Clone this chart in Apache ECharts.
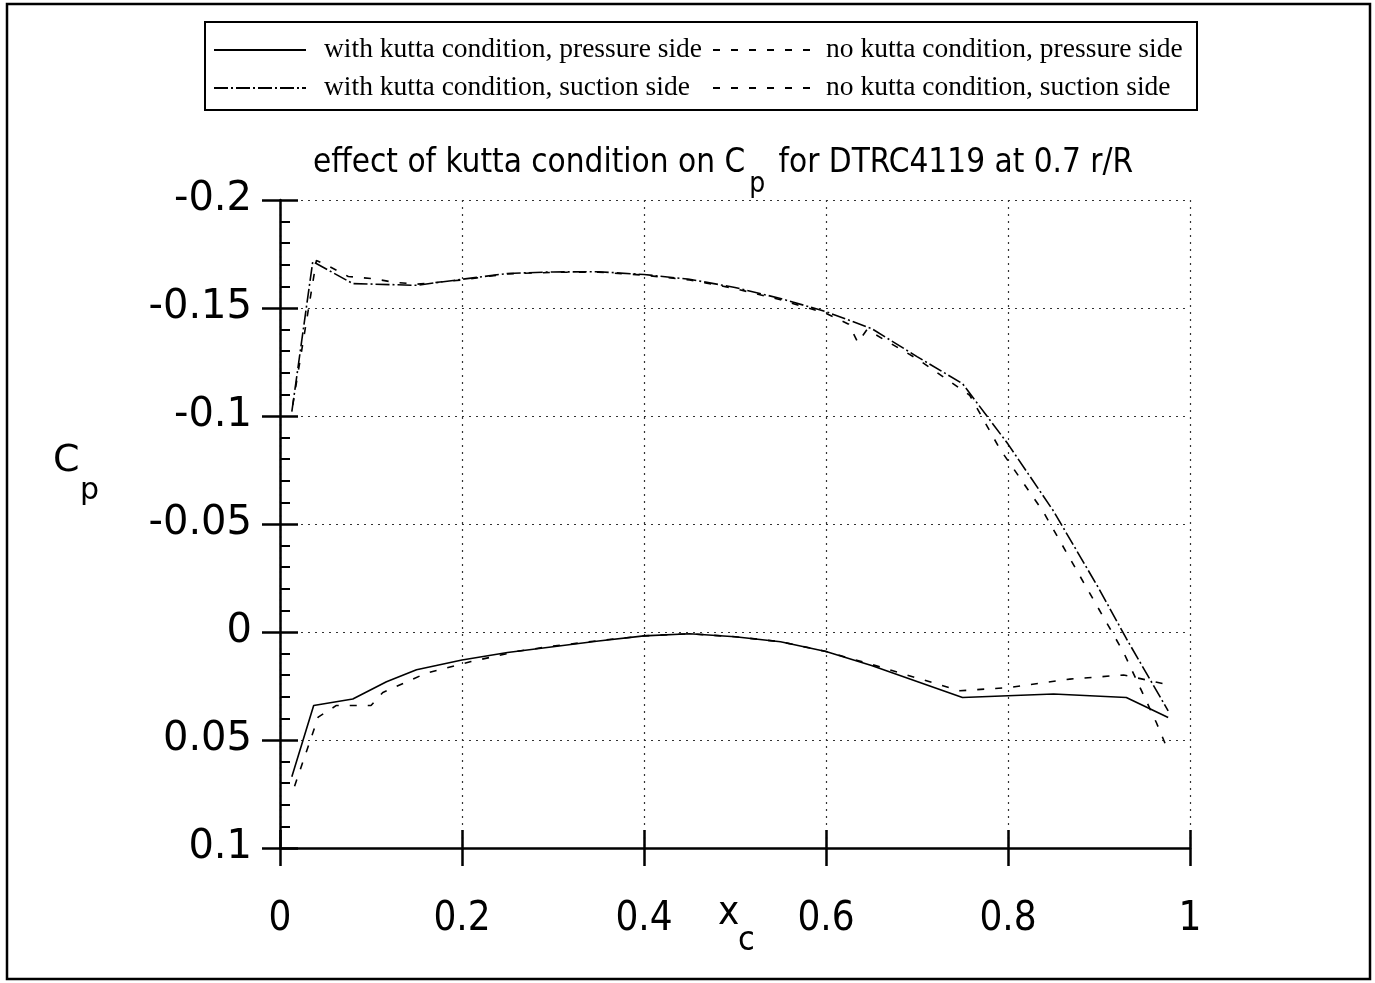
<!DOCTYPE html>
<html>
<head>
<meta charset="utf-8">
<script src="https://cdn.jsdelivr.net/npm/echarts@6/dist/echarts.min.js"></script>
<style>
html,body{margin:0;padding:0;background:#fff;}
#c{width:1375px;height:983px;}
</style>
</head>
<body>
<div id="c"></div>
<script>
// ---- data ----
const seriesNames = [
  'with kutta condition, pressure side',
  'no kutta condition, pressure side',
  'with kutta condition, suction side',
  'no kutta condition, suction side'
];
const xTickLabels = ['0', '0.2', '0.4', '0.6', '0.8', '1'];
const yTickLabels = ['-0.2', '-0.15', '-0.1', '-0.05', '0', '0.05', '0.1'];

// with kutta condition, pressure side
const xKP  = [0.013, 0.037, 0.08, 0.117, 0.15, 0.2, 0.25, 0.3, 0.35, 0.4, 0.45, 0.5, 0.55, 0.6, 0.65, 0.75, 0.8, 0.85, 0.93, 0.976];
const cpKP = [0.067, 0.034, 0.031, 0.023, 0.0175, 0.013, 0.0095, 0.0068, 0.0042, 0.0018, 0.0008, 0.0022, 0.0045, 0.009, 0.0155, 0.0303, 0.0295, 0.0287, 0.0303, 0.0396];

// no kutta condition, pressure side
const xNP  = [0.016, 0.042, 0.062, 0.1, 0.113, 0.161, 0.21, 0.26, 0.3, 0.35, 0.4, 0.45, 0.5, 0.55, 0.6, 0.65, 0.747, 0.802, 0.868, 0.927, 0.976];
const cpNP = [0.0714, 0.0394, 0.034, 0.034, 0.028, 0.019, 0.0137, 0.009, 0.0065, 0.004, 0.0018, 0.0008, 0.0022, 0.0045, 0.009, 0.015, 0.0272, 0.0257, 0.0218, 0.0199, 0.0244];

// with kutta condition, suction side
const xKS  = [0.013, 0.036, 0.08, 0.15, 0.2, 0.25, 0.3, 0.35, 0.4, 0.45, 0.5, 0.55, 0.6, 0.65, 0.7, 0.75, 0.8, 0.85, 0.9, 0.93, 0.976];
const cpKS = [-0.102, -0.1715, -0.1613, -0.1605, -0.1633, -0.166, -0.1667, -0.1668, -0.1655, -0.1633, -0.1595, -0.1544, -0.1483, -0.1405, -0.1275, -0.115, -0.087, -0.056, -0.020, 0.003, 0.0365];

// no kutta condition, suction side
const xNS  = [0.014, 0.04, 0.052, 0.075, 0.102, 0.124, 0.15, 0.2, 0.25, 0.3, 0.35, 0.4, 0.45, 0.5, 0.55, 0.6, 0.625, 0.635, 0.645, 0.7, 0.758, 0.791, 0.839, 0.885, 0.927, 0.963, 0.975];
const cpNS = [-0.105, -0.172, -0.1697, -0.1646, -0.1636, -0.162, -0.161, -0.163, -0.1658, -0.1665, -0.1666, -0.1652, -0.163, -0.159, -0.1538, -0.1475, -0.1425, -0.134, -0.140, -0.1265, -0.1096, -0.0848, -0.0555, -0.0215, 0.0094, 0.0419, 0.054];

// ---- build ----
function zip(xs, ys) { return xs.map((x, i) => [x, ys[i]]); }

const NARROW = '"Liberation Sans Narrow", "Arial Narrow", "DejaVu Sans Condensed", sans-serif';
const ROUND = '"DejaVu Sans", sans-serif';
const SERIF = '"Liberation Serif", "DejaVu Serif", serif';

const dotted = { type: [2, 5], color: '#333', width: 1.2 };

function line(name, xs, ys, type) {
  return {
    name: name, type: 'line', data: zip(xs, ys),
    symbol: 'none', showSymbol: false, clip: false,
    lineStyle: { color: '#000', width: 1.6, type: type },
    itemStyle: { color: '#000' }
  };
}

const legendBase = {
  orient: 'vertical', top: 31,
  itemHeight: 14, itemGap: 10,
  itemStyle: { color: 'rgba(0,0,0,0)', borderWidth: 0, opacity: 0 },
  inactiveColor: '#000'
};

const chart = echarts.init(document.getElementById('c'), null, { renderer: 'canvas' });
const option = {
  animation: false,
  backgroundColor: '#fff',
  title: {
    text: '{t|effect of kutta condition on C}{s|p}{t| for DTRC4119 at 0.7 r/R}',
    left: 308, top: 122,
    textStyle: {
      fontWeight: 'normal',
      rich: {
        t: { fontFamily: NARROW, fontSize: 33, fontWeight: 'normal', color: '#000', lineHeight: 72 },
        s: { fontFamily: NARROW, fontSize: 28, fontWeight: 'normal', color: '#000', lineHeight: 28, padding: [44, 4, 0, 4] }
      }
    }
  },
  legend: [
    Object.assign({}, legendBase, {
      data: [seriesNames[0], seriesNames[2]],
      left: 208, itemWidth: 92,
      textStyle: { fontFamily: SERIF, fontSize: 27.5, color: '#000', lineHeight: 27, padding: [0, 0, 0, 13] }
    }),
    Object.assign({}, legendBase, {
      data: [seriesNames[1], seriesNames[3]],
      left: 707, itemWidth: 100,
      textStyle: { fontFamily: SERIF, fontSize: 27.5, color: '#000', lineHeight: 27, padding: [0, 0, 0, 8] }
    })
  ],
  grid: { left: 280, right: 185, top: 200, bottom: 135 },
  xAxis: [
    {
      type: 'value', min: 0, max: 1, interval: 0.2, position: 'bottom',
      axisLine: { onZero: false, lineStyle: { color: '#000', width: 2.5 } },
      axisTick: { inside: true, length: 18, lineStyle: { color: '#000', width: 2.5 } },
      axisLabel: { margin: 52, fontFamily: NARROW, fontSize: 40, color: '#000',
        formatter: (v) => xTickLabels[Math.round(v / 0.2)] },
      splitLine: { show: true, lineStyle: dotted }
    },
    {
      type: 'value', min: 0, max: 1, interval: 0.2, position: 'bottom',
      axisLine: { show: false, onZero: false },
      axisTick: { inside: false, length: 18, lineStyle: { color: '#000', width: 2.5 } },
      axisLabel: { show: false }, splitLine: { show: false }
    }
  ],
  yAxis: [
    {
      type: 'value', inverse: true, min: -0.2, max: 0.1, interval: 0.05, position: 'left',
      axisLine: { onZero: false, lineStyle: { color: '#000', width: 2.5 } },
      axisTick: { inside: true, length: 18, lineStyle: { color: '#000', width: 2.5 } },
      minorTick: { show: true, splitNumber: 5, length: 10, lineStyle: { color: '#000', width: 2 } },
      axisLabel: { margin: 28, fontFamily: ROUND, fontSize: 40, color: '#000',
        formatter: (v) => yTickLabels[Math.round((v + 0.2) / 0.05)] },
      splitLine: { show: true, lineStyle: dotted }
    },
    {
      type: 'value', inverse: true, min: -0.2, max: 0.1, interval: 0.05, position: 'left',
      axisLine: { show: false, onZero: false },
      axisTick: { inside: false, length: 18, lineStyle: { color: '#000', width: 2.5 } },
      axisLabel: { show: false }, splitLine: { show: false }
    }
  ],
  series: [
    line(seriesNames[0], xKP, cpKP, 'solid'),
    line(seriesNames[1], xNP, cpNP, [7, 11]),
    line(seriesNames[2], xKS, cpKS, [14, 3, 2, 3]),
    line(seriesNames[3], xNS, cpNS, [7, 11])
  ],
  graphic: [
    { type: 'rect', shape: { x: 7, y: 4, width: 1363, height: 975 },
      style: { fill: null, stroke: '#000', lineWidth: 2.5 }, silent: true },
    { type: 'rect', shape: { x: 205, y: 22, width: 992, height: 88 },
      style: { fill: null, stroke: '#000', lineWidth: 2 }, silent: true },
    { type: 'text', left: 53, top: 442,
      style: { text: 'C', font: '38px ' + ROUND, fill: '#000' } },
    { type: 'text', left: 80, top: 476,
      style: { text: 'p', font: '30px ' + ROUND, fill: '#000' } },
    { type: 'text', left: 718, top: 894,
      style: { text: 'x', font: '40px ' + NARROW, fill: '#000' } },
    { type: 'text', left: 738, top: 924,
      style: { text: 'c', font: '34px ' + NARROW, fill: '#000' } }
  ]
};
chart.setOption(option);
</script>
</body>
</html>
